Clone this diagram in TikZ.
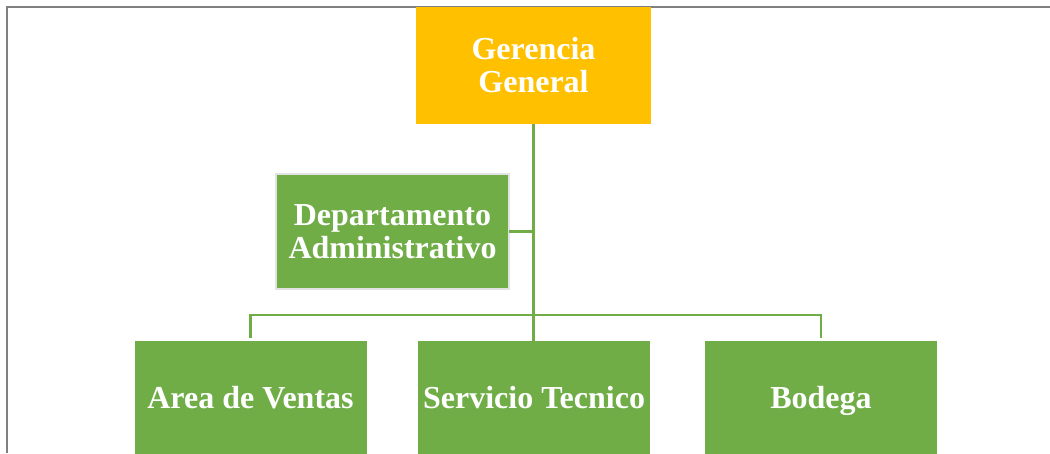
\documentclass[tikz,border=0pt]{standalone}
\usepackage{xcolor}
\usepackage{fontspec}
\setmainfont{Liberation Serif}
\usepackage{tikz}
\definecolor{boxgreen}{HTML}{70AD47}
\definecolor{boxgold}{HTML}{FFC000}
\definecolor{framegray}{HTML}{808080}
\definecolor{edgegray}{HTML}{E2E2E2}

\begin{document}
\begin{tikzpicture}[x=1pt,y=-1pt,
                        unit/.style={fill=boxgreen,text=white,font=\fontsize{32}{33}\selectfont\bfseries,
                                     align=center,inner sep=0pt,outer sep=0pt,minimum height=117pt,minimum width=232pt},
                        leaf/.style={unit,text height=24pt,text depth=7pt},
                        conn/.style={draw=boxgreen,line width=2.2pt}]
                        \useasboundingbox (0,0) rectangle (1050,453);
                        \draw[framegray,line width=2pt] (7,453) -- (7,7) -- (1050,7);
                        \node (ger) [unit,fill=boxgold,minimum width=235pt] at (533.5,65.5) {Gerencia\\General};
                        \node (dept) [unit,draw=edgegray,line width=2pt,minimum width=233pt,minimum height=115pt]
                            at (392.5,231.5) {Departamento\\Administrativo};
                        \node (area) [leaf] at (250.5,399.5) {Area de Ventas};
                        \node (serv) [leaf] at (534,399.5) {Servicio Tecnico};
                        \node (bod) [leaf] at (821,399.5) {Bodega};
                        \coordinate (bar) at (533.5,315);
                        \draw[conn] (ger.south) -- (ger.south |- serv.north) -- ++(0,-3);
                        \draw[conn] (dept.east) -- (dept.east -| ger.south);
                        \draw[conn] ([yshift=3pt]area.north) |- (bar) -| ([yshift=3pt]bod.north);
                    \end{tikzpicture}
\end{document}
